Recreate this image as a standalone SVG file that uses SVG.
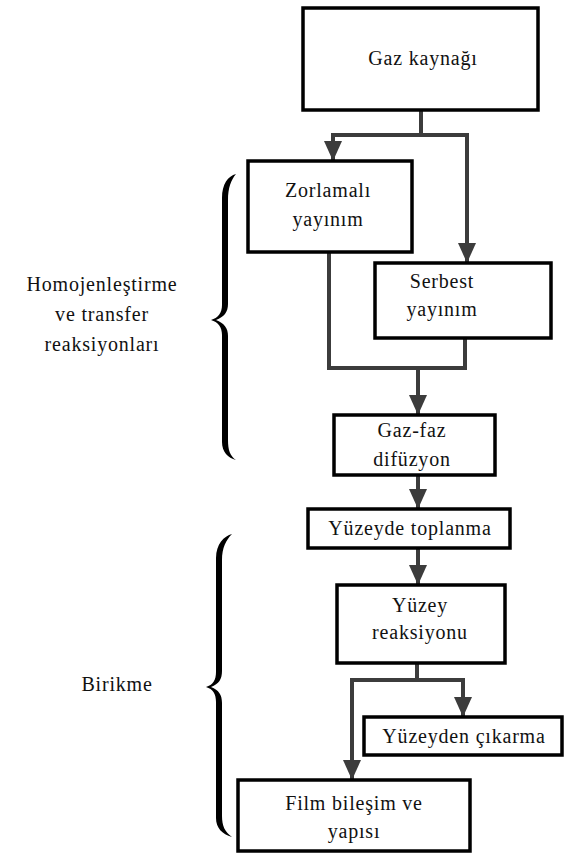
<svg xmlns="http://www.w3.org/2000/svg" width="564" height="854" viewBox="0 0 564 854">
<style>
.box{fill:#fff;stroke:#000;stroke-width:3.5}
text{font-size:20px;fill:#111;text-anchor:middle;letter-spacing:0.8px}
.c{fill:none;stroke:#3c3c3c;stroke-width:4}
.br{fill:#000}
</style>
<defs>
<marker id="ah" viewBox="0 0 20 18" refX="20" refY="9" markerWidth="20" markerHeight="18" markerUnits="userSpaceOnUse" orient="auto">
<path d="M0,0 L20,9 L0,18 Z" fill="#3c3c3c"/>
</marker>
</defs>
<rect width="564" height="854" fill="#fff"/>
<g id="connectors">
<path class="c" d="M421,110 V135 M331,135 H469"/>
<path class="c" d="M333,135 V161" marker-end="url(#ah)"/>
<path class="c" d="M467,135 V263" marker-end="url(#ah)"/>
<path class="c" d="M329,252 V368 H467 M465,338 V368"/>
<path class="c" d="M418,368 V415" marker-end="url(#ah)"/>
<path class="c" d="M418,475 V509" marker-end="url(#ah)"/>
<path class="c" d="M418,548 V585" marker-end="url(#ah)"/>
<path class="c" d="M417,663 V680 M350,680 H465"/>
<path class="c" d="M463,680 V717" marker-end="url(#ah)"/>
<path class="c" d="M352,680 V780" marker-end="url(#ah)"/>
</g>
<g font-family="Liberation Serif, Times New Roman, serif">
<g id="gaz-kaynagi"><rect class="box" x="303" y="8" width="235" height="102"/><text x="423" y="65">Gaz kaynağı</text></g>
<g id="zorlamali"><rect class="box" x="248" y="161" width="164" height="91"/><text x="328" y="197">Zorlamalı</text><text x="328" y="226">yayınım</text></g>
<g id="serbest"><rect class="box" x="375" y="263" width="176" height="75"/><text x="442" y="288">Serbest</text><text x="442" y="316">yayınım</text></g>
<g id="gaz-faz"><rect class="box" x="334" y="415" width="161" height="60"/><text x="412" y="437">Gaz-faz</text><text x="412" y="466">difüzyon</text></g>
<g id="yuzeyde-toplanma"><rect class="box" x="308" y="509" width="202" height="39"/><text x="410" y="535">Yüzeyde toplanma</text></g>
<g id="yuzey-reaksiyonu"><rect class="box" x="337" y="585" width="168" height="78"/><text x="420" y="612">Yüzey</text><text x="420" y="639">reaksiyonu</text></g>
<g id="yuzeyden-cikarma"><rect class="box" x="364" y="717" width="198" height="38"/><text x="464" y="743">Yüzeyden çıkarma</text></g>
<g id="film"><rect class="box" x="238" y="780" width="232" height="71"/><text x="354" y="810">Film bileşim ve</text><text x="354" y="838">yapısı</text></g>
<g id="homojen-brace">
<path class="br" d="M236,174 C228,176 222,184 222,198 L222,305 C222,313 218,318 211,320 C218,322 222,327 222,335 L222,442 C222,452 228,458 236,460 C230,456 228,450 228,440 L228,336 C228,328 224,323 216,320 C224,317 228,312 228,304 L228,200 C228,188 231,180 236,174 Z"/>
<text x="102" y="291">Homojenleştirme</text><text x="102" y="321">ve transfer</text><text x="102" y="351">reaksiyonları</text>
</g>
<g id="birikme-brace">
<path class="br" d="M232,534 C224,536 216,544 216,558 L216,672 C216,680 213,685 206,687 C213,689 216,694 216,702 L216,818 C216,828 222,834 232,837 C225,832 222,826 222,816 L222,703 C222,695 219,690 211,687 C219,684 222,679 222,671 L222,560 C222,548 226,540 232,534 Z"/>
<text x="117" y="691">Birikme</text>
</g>
</g>
</svg>
